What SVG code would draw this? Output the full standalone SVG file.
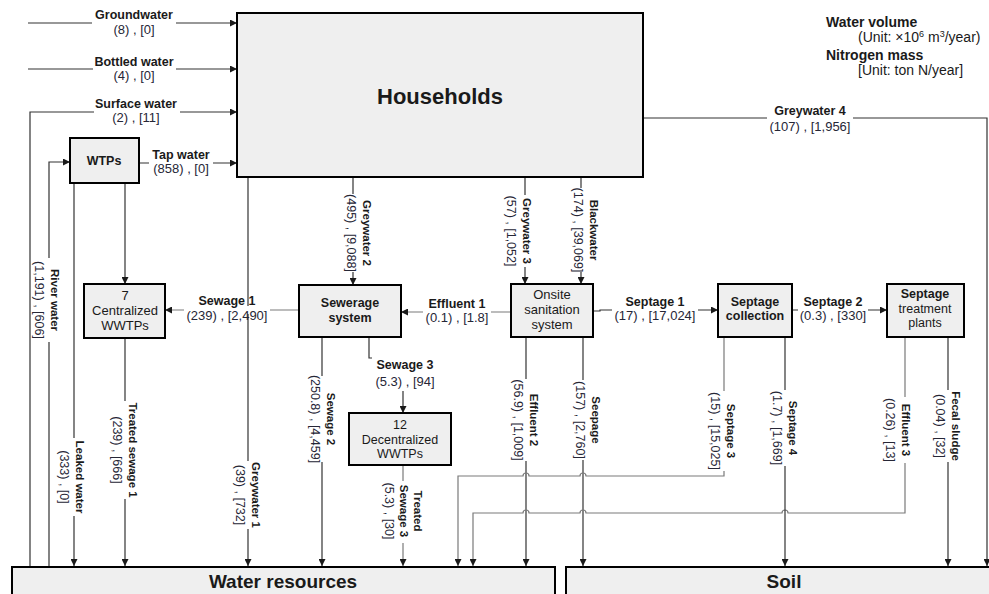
<svg xmlns="http://www.w3.org/2000/svg" width="989" height="594" viewBox="0 0 989 594">
  <defs>
    <marker id="ah" viewBox="0 0 8 8" refX="8" refY="4" markerWidth="7" markerHeight="7" markerUnits="userSpaceOnUse" orient="auto">
      <path d="M0,0 L8,4 L0,8 z" fill="#1a1a1a"/>
    </marker>
    <style>
      .box { fill: #efefef; stroke: #000; stroke-width: 2; }
      .ln { fill: none; stroke: #333; stroke-width: 1.2; }
      .lg { fill: none; stroke: #7a7a7a; stroke-width: 1.2; }
      .bg { fill: #fff; }
      text { font-family: "Liberation Sans", Arial, sans-serif; fill: #1a1a1a; text-anchor: middle; }
      .nm { font-size: 12.5px; font-weight: bold; }
      .vl { font-size: 13px; fill: #262636; }
      .rn { font-size: 11.5px; font-weight: bold; }
      .rv { font-size: 12.5px; fill: #262636; }
      .bx { font-size: 12.5px; }
      .bxm { font-size: 13px; }
      .bxb { font-size: 12.5px; font-weight: bold; }
      .big { font-size: 19px; font-weight: bold; }
      .lgd { text-anchor: start; font-size: 14px; }
    </style>
  </defs>

  <rect width="989" height="594" fill="#fff"/>

  <!-- flows -->
  <g id="connectors">
    <path class="ln" d="M28,23 H237" marker-end="url(#ah)"/>
    <path class="ln" d="M28,69 H237" marker-end="url(#ah)"/>
    <path class="ln" d="M30,567 V112 H237" marker-end="url(#ah)"/>
    <path class="ln" d="M49,567 V162 H70" marker-end="url(#ah)"/>
    <path class="ln" d="M139,163 H237" marker-end="url(#ah)"/>
    <path class="ln" d="M125,183 V284" marker-end="url(#ah)"/>
    <path class="ln" d="M74,183 V566" marker-end="url(#ah)"/>
    <path class="ln" d="M125,338 V566" marker-end="url(#ah)"/>
    <path class="ln" d="M248,177 V566" marker-end="url(#ah)"/>
    <path class="ln" d="M353,177 V285" marker-end="url(#ah)"/>
    <path class="ln" d="M525,177 V284" marker-end="url(#ah)"/>
    <path class="ln" d="M581,177 V284" marker-end="url(#ah)"/>
    <path class="lg" d="M299,310 H165" marker-end="url(#ah)"/>
    <path class="lg" d="M511,312 H401" marker-end="url(#ah)"/>
    <path class="ln" d="M369,337 V358 H403 V413" marker-end="url(#ah)"/>
    <path class="ln" d="M322,337 V566" marker-end="url(#ah)"/>
    <path class="lg" d="M403,465 V566" marker-end="url(#ah)"/>
    <path class="ln" d="M526,337 V566" marker-end="url(#ah)"/>
    <path class="ln" d="M583,337 V566" marker-end="url(#ah)"/>
    <path class="ln" d="M593,311 H600 V310 H718" marker-end="url(#ah)"/>
    <path class="ln" d="M792,310 H887" marker-end="url(#ah)"/>
    <path class="lg" d="M724,337 V476 H586 A3,3 0 0 0 580,476 H529 A3,3 0 0 0 523,476 H458 V566" marker-end="url(#ah)"/>
    <path class="lg" d="M905,337 V513 H788 A3,3 0 0 0 782,513 H586 A3,3 0 0 0 580,513 H529 A3,3 0 0 0 523,513 H473 V566" marker-end="url(#ah)"/>
    <path class="ln" d="M785,337 V566" marker-end="url(#ah)"/>
    <path class="ln" d="M948,337 V566" marker-end="url(#ah)"/>
    <path class="ln" d="M643,118 H987 V566" marker-end="url(#ah)"/>
  </g>

  <!-- flow labels (white patches open the line under each label) -->
  <g id="connector-labels">
    <!-- horizontal -->
    <rect class="bg" x="92" y="19" width="84" height="8"/>
    <text class="nm" x="134" y="19">Groundwater</text>
    <text class="vl" x="134" y="34">(8) , [0]</text>

    <rect class="bg" x="93" y="65" width="83" height="8"/>
    <text class="nm" x="134" y="66">Bottled water</text>
    <text class="vl" x="134" y="80">(4) , [0]</text>

    <rect class="bg" x="94" y="108" width="86" height="8"/>
    <text class="nm" x="136" y="108">Surface water</text>
    <text class="vl" x="136" y="122">(2) , [11]</text>

    <rect class="bg" x="149" y="159" width="64" height="8"/>
    <text class="nm" x="181" y="159">Tap water</text>
    <text class="vl" x="181" y="173">(858) , [0]</text>

    <rect class="bg" x="184" y="306" width="86" height="8"/>
    <text class="nm" x="227" y="305">Sewage 1</text>
    <text class="vl" x="227" y="320">(239) , [2,490]</text>

    <rect class="bg" x="423" y="308" width="68" height="8"/>
    <text class="nm" x="457" y="308">Effluent 1</text>
    <text class="vl" x="457" y="322">(0.1) , [1.8]</text>

    <rect class="bg" x="612" y="306" width="86" height="8"/>
    <text class="nm" x="655" y="306">Septage 1</text>
    <text class="vl" x="655" y="320">(17) , [17,024]</text>

    <rect class="bg" x="798" y="306" width="70" height="8"/>
    <text class="nm" x="833" y="306">Septage 2</text>
    <text class="vl" x="833" y="320">(0.3) , [330]</text>

    <rect class="bg" x="372" y="355" width="68" height="36"/>
    <text class="nm" x="405" y="369">Sewage 3</text>
    <text class="vl" x="405" y="386">(5.3) , [94]</text>

    <rect class="bg" x="767" y="114" width="86" height="8"/>
    <text class="nm" x="810" y="115">Greywater 4</text>
    <text class="vl" x="810" y="131">(107) , [1,956]</text>

    <!-- vertical (rotated) -->
    <rect class="bg" x="45" y="258" width="8" height="84"/>
    <g transform="translate(47,300) rotate(90)">
      <text class="rn" y="-4">River water</text>
      <text class="rv" y="12">(1,191) , [606]</text>
    </g>

    <rect class="bg" x="70" y="438" width="8" height="78"/>
    <g transform="translate(72,477) rotate(90)">
      <text class="rn" y="-4">Leaked water</text>
      <text class="rv" y="12">(333) , [0]</text>
    </g>

    <rect class="bg" x="121" y="401" width="8" height="98"/>
    <g transform="translate(125,450) rotate(90)">
      <text class="rn" y="-4">Treated sewage 1</text>
      <text class="rv" y="12">(239) , [666]</text>
    </g>

    <rect class="bg" x="244" y="461" width="8" height="68"/>
    <g transform="translate(248,495) rotate(90)">
      <text class="rn" y="-4">Greywater 1</text>
      <text class="rv" y="12">(39) , [732]</text>
    </g>

    <rect class="bg" x="349" y="194" width="8" height="78"/>
    <g transform="translate(359,233) rotate(90)">
      <text class="rn" y="-4">Greywater 2</text>
      <text class="rv" y="12">(495) , [9,088]</text>
    </g>

    <rect class="bg" x="521" y="195" width="8" height="72"/>
    <g transform="translate(519,231) rotate(90)">
      <text class="rn" y="-4">Greywater 3</text>
      <text class="rv" y="12">(57) , [1,052]</text>
    </g>

    <rect class="bg" x="577" y="188" width="8" height="84"/>
    <g transform="translate(586,230) rotate(90)">
      <text class="rn" y="-4">Blackwater</text>
      <text class="rv" y="12">(174) , [39,069]</text>
    </g>

    <rect class="bg" x="318" y="376" width="8" height="86"/>
    <g transform="translate(323,419) rotate(90)">
      <text class="rn" y="-4">Sewage 2</text>
      <text class="rv" y="12">(250.8) , [4,459]</text>
    </g>

    <rect class="bg" x="522" y="379" width="8" height="82"/>
    <g transform="translate(526,420) rotate(90)">
      <text class="rn" y="-4">Effluent 2</text>
      <text class="rv" y="12">(56.9) , [1,009]</text>
    </g>

    <rect class="bg" x="579" y="380" width="8" height="80"/>
    <g transform="translate(588,420) rotate(90)">
      <text class="rn" y="-4">Seepage</text>
      <text class="rv" y="12">(157) , [2,760]</text>
    </g>

    <rect class="bg" x="720" y="391" width="8" height="80"/>
    <g transform="translate(723,431) rotate(90)">
      <text class="rn" y="-4">Septage 3</text>
      <text class="rv" y="12">(15) , [15,025]</text>
    </g>

    <rect class="bg" x="781" y="390" width="8" height="76"/>
    <g transform="translate(785,428) rotate(90)">
      <text class="rn" y="-4">Septage 4</text>
      <text class="rv" y="12">(1.7) , [1,669]</text>
    </g>

    <rect class="bg" x="901" y="397" width="8" height="66"/>
    <g transform="translate(898,430) rotate(90)">
      <text class="rn" y="-4">Effluent 3</text>
      <text class="rv" y="12">(0.26) , [13]</text>
    </g>

    <rect class="bg" x="944" y="390" width="8" height="72"/>
    <g transform="translate(948,426) rotate(90)">
      <text class="rn" y="-4">Fecal sludge</text>
      <text class="rv" y="12">(0.04) , [32]</text>
    </g>

    <rect class="bg" x="399" y="481" width="8" height="62"/>
    <g transform="translate(404,511) rotate(90)">
      <text class="rn" y="-10">Treated</text>
      <text class="rn" y="4">Sewage 3</text>
      <text class="rv" y="19">(5.3) , [30]</text>
    </g>
  </g>

  <!-- nodes -->
  <g id="households">
    <rect class="box" x="237" y="13" width="406" height="164"/>
    <text x="440" y="104" style="font-size:22px;font-weight:bold">Households</text>
  </g>

  <g id="wtps">
    <rect class="box" x="70" y="138" width="69" height="45"/>
    <text class="bxb" x="104" y="165">WTPs</text>
  </g>

  <g id="centralized-wwtps">
    <rect class="box" x="84" y="284" width="81" height="54"/>
    <text class="bxm" x="125" y="300">7</text>
    <text class="bxm" x="125" y="315">Centralized</text>
    <text class="bxm" x="125" y="330">WWTPs</text>
  </g>

  <g id="sewerage-system">
    <rect class="box" x="299" y="285" width="102" height="52"/>
    <text class="bxb" x="350" y="307">Sewerage</text>
    <text class="bxb" x="350" y="321.5">system</text>
  </g>

  <g id="onsite-sanitation">
    <rect class="box" x="511" y="284" width="82" height="53"/>
    <text class="bxm" x="552" y="299">Onsite</text>
    <text class="bxm" x="552" y="314">sanitation</text>
    <text class="bxm" x="552" y="329">system</text>
  </g>

  <g id="septage-collection">
    <rect class="box" x="718" y="284" width="74" height="53"/>
    <text class="bxb" x="755" y="305.5">Septage</text>
    <text class="bxb" x="755" y="320">collection</text>
  </g>

  <g id="septage-treatment">
    <rect class="box" x="887" y="284" width="77" height="53"/>
    <text class="bxb" x="925" y="298">Septage</text>
    <text class="bx" x="925" y="312.5">treatment</text>
    <text class="bx" x="925" y="327">plants</text>
  </g>

  <g id="decentralized-wwtps">
    <rect class="box" x="349" y="413" width="102" height="52"/>
    <text class="bx" x="400" y="429">12</text>
    <text class="bx" x="400" y="443.5">Decentralized</text>
    <text class="bx" x="400" y="458">WWTPs</text>
  </g>

  <g id="water-resources">
    <rect class="box" x="12" y="567" width="543" height="32"/>
    <text class="big" x="283" y="588">Water resources</text>
  </g>

  <g id="soil">
    <rect class="box" x="566" y="567" width="430" height="32"/>
    <text class="big" x="784" y="588">Soil</text>
  </g>

  <g id="legend">
    <text class="lgd" x="826" y="27" font-weight="bold">Water volume</text>
    <text class="lgd" x="858" y="42">(Unit: ×10<tspan dy="-5" font-size="9">6</tspan><tspan dy="5"> m</tspan><tspan dy="-5" font-size="9">3</tspan><tspan dy="5">/year)</tspan></text>
    <text class="lgd" x="826" y="60" font-weight="bold">Nitrogen mass</text>
    <text class="lgd" x="858" y="75">[Unit: ton N/year]</text>
  </g>
</svg>
